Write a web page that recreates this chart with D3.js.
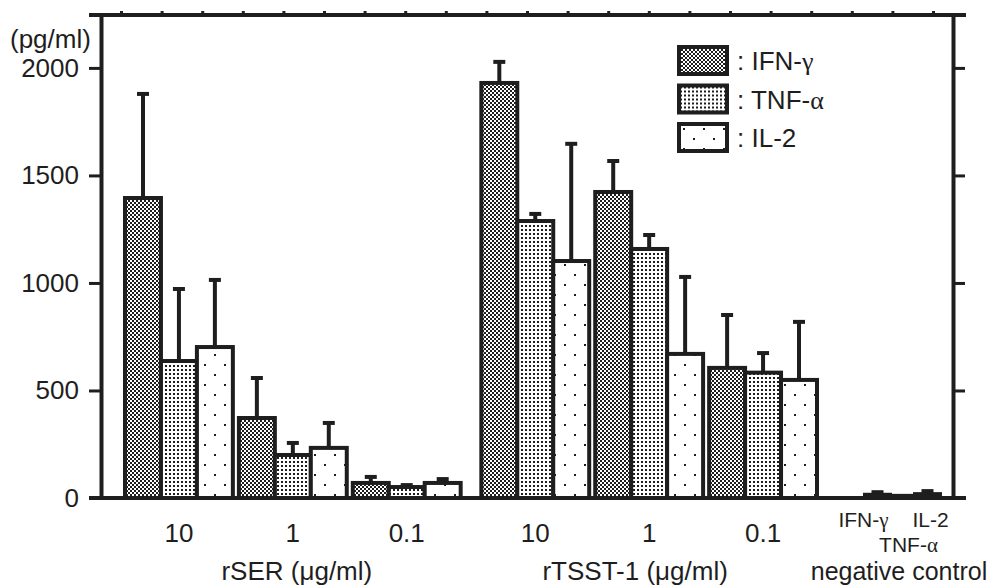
<!DOCTYPE html>
<html>
<head>
<meta charset="utf-8">
<script src="https://cdn.jsdelivr.net/npm/d3@7"></script>
<style>
  body { margin: 0; background: #fff; }
  text { font-family: "Liberation Sans", Arial, sans-serif; fill: #1e1e1e; }
  .greek { font-family: "Liberation Serif", serif; }
</style>
</head>
<body>
<svg id="chart" width="990" height="588"></svg>
<script>
const cytokines = ["IFN-γ", "TNF-α", "IL-2"];
const concentrations = ["10", "1", "0.1"];
const stimuli = ["rSER (μg/ml)", "rTSST-1 (μg/ml)"];

// rows = concentration (10, 1, 0.1), columns = cytokine
const rserMean = [[1395, 637, 702], [372, 200, 233], [70, 51, 70]];
const rserErr = [[484, 335, 312], [186, 56, 116], [28, 9, 18]];
const tsstMean = [[1930, 1288, 1102], [1423, 1158, 670], [605, 583, 549]];
const tsstErr = [[98, 33, 545], [144, 65, 358], [246, 91, 270]];
const negMean = [15, 10, 18];
const negErr = [12, 0, 14];

const yTicks = [0, 500, 1000, 1500, 2000];

const svg = d3.select('#chart'),
  plotLeft = 101, plotRight = 953, plotTop = 15, plotBottom = 498,
  ink = '#1e1e1e',
  y = d3.scaleLinear().domain([0, 2246]).range([plotBottom, plotTop]),
  xStim = d3.scaleBand().domain(stimuli).range([125, 817]).paddingInner(0.058),
  xConc = d3.scaleBand().domain(concentrations).range([0, xStim.bandwidth()]).paddingInner(0.053),
  xCyto = d3.scaleBand().domain(cytokines).range([0, xConc.bandwidth()]),
  xNeg = d3.scaleBand().domain(cytokines).range([865, 940]);

// fill patterns
const defs = svg.append('defs');
function pattern(id, size, dots) {
  const p = defs.append('pattern')
    .attr('id', id)
    .attr('patternUnits', 'userSpaceOnUse')
    .attr('width', size).attr('height', size);
  p.append('rect').attr('width', size).attr('height', size).attr('fill', '#fff');
  dots.forEach(d => p.append('rect')
    .attr('x', d[0]).attr('y', d[1]).attr('width', 2).attr('height', 2).attr('fill', ink));
}
pattern('p-ifn', 4, [[0, 0], [2, 2]]);
pattern('p-tnf', 4, [[1, 1]]);
pattern('p-il2', 20, [[4, 4], [14, 14]]);
const fillOf = d3.scaleOrdinal().domain(cytokines).range(['url(#p-ifn)', 'url(#p-tnf)', 'url(#p-il2)']);

// frame
const frame = svg.append('g').attr('stroke', ink).attr('stroke-width', 4);
frame.append('line').attr('x1', 89).attr('x2', 966).attr('y1', plotTop).attr('y2', plotTop);
frame.append('line').attr('x1', 89).attr('x2', 966).attr('y1', plotBottom).attr('y2', plotBottom);

const topTicks = d3.scaleLinear().domain([0, 20]).range([121, 933]);
svg.append('g')
  .attr('transform', `translate(0,${plotTop})`)
  .call(d3.axisTop(topTicks).tickValues(d3.range(21)).tickSize(4).tickFormat(''))
  .call(g => g.select('.domain').remove())
  .selectAll('line').attr('stroke', ink).attr('stroke-width', 3);

svg.append('g')
  .attr('transform', `translate(${plotLeft},0)`)
  .call(d3.axisLeft(y).tickValues(yTicks).tickSize(12).tickPadding(10).tickSizeOuter(0)
    .tickFormat(d3.format('d')))
  .call(g => g.select('.domain').attr('stroke', ink).attr('stroke-width', 4))
  .call(g => g.selectAll('line').attr('stroke', ink).attr('stroke-width', 3))
  .call(g => g.selectAll('text').attr('font-size', 26).attr('fill', ink)
    .attr('font-family', '"Liberation Sans", Arial, sans-serif'));

svg.append('g')
  .attr('transform', `translate(${plotRight},0)`)
  .call(d3.axisRight(y).tickValues(yTicks).tickSize(12).tickSizeOuter(0).tickFormat(''))
  .call(g => g.select('.domain').attr('stroke', ink).attr('stroke-width', 4))
  .call(g => g.selectAll('line').attr('stroke', ink).attr('stroke-width', 3));

svg.append('text')
  .attr('x', 10).attr('y', 48)
  .attr('font-size', 26)
  .text('(pg/ml)');

// bars
const rows = [];
[rserMean, tsstMean].forEach((means, s) => {
  const errs = s === 0 ? rserErr : tsstErr;
  concentrations.forEach((c, i) => {
    cytokines.forEach((k, j) => {
      rows.push({
        cyto: k,
        x: xStim(stimuli[s]) + xConc(c) + xCyto(k),
        w: xCyto.bandwidth(),
        mean: means[i][j],
        err: errs[i][j]
      });
    });
  });
});
cytokines.forEach((k, j) => rows.push({
  cyto: k, x: xNeg(k), w: xNeg.bandwidth(), mean: negMean[j], err: negErr[j]
}));

const bars = svg.append('g')
  .selectAll('g')
  .data(rows)
  .join('g');

bars.append('line')
  .attr('x1', d => d.x + d.w / 2)
  .attr('x2', d => d.x + d.w / 2)
  .attr('y1', d => y(d.mean))
  .attr('y2', d => y(d.mean + d.err))
  .attr('stroke', ink)
  .attr('stroke-width', 4);

bars.append('line')
  .attr('x1', d => d.x + d.w / 2 - 6)
  .attr('x2', d => d.x + d.w / 2 + 6)
  .attr('y1', d => y(d.mean + d.err))
  .attr('y2', d => y(d.mean + d.err))
  .attr('stroke', ink)
  .attr('stroke-width', d => d.err > 0 ? 4 : 0);

bars.append('rect')
  .attr('x', d => d.x)
  .attr('y', d => y(d.mean))
  .attr('width', d => d.w)
  .attr('height', d => plotBottom - y(d.mean))
  .attr('fill', d => fillOf(d.cyto))
  .attr('stroke', ink)
  .attr('stroke-width', 4);

// redraw baseline over bar bottoms
svg.append('line')
  .attr('x1', 89).attr('x2', 966).attr('y1', plotBottom).attr('y2', plotBottom)
  .attr('stroke', ink).attr('stroke-width', 4);

// group labels
stimuli.forEach((s, i) => {
  svg.append('g')
    .selectAll('text')
    .data(concentrations)
    .join('text')
    .attr('x', c => xStim(s) + xConc(c) + xConc.bandwidth() / 2)
    .attr('y', 542)
    .attr('text-anchor', 'middle')
    .attr('font-size', 26)
    .text(c => c);

  svg.append('text')
    .attr('x', xStim(s) + xStim.bandwidth() / 2 + (i === 0 ? 4 : -14))
    .attr('y', 580)
    .attr('text-anchor', 'middle')
    .attr('font-size', 26)
    .text(s);
});

function labelWithGreek(sel, label) {
  const parts = label.split('-');
  sel.append('tspan').text(parts[0] + '-');
  const last = parts[1];
  if (/[αγ]/.test(last)) sel.append('tspan').attr('class', 'greek').text(last);
  else sel.append('tspan').text(last);
}

// negative control labels
const negLabelPos = [{ k: 'IFN-γ', dx: -14, y: 527 }, { k: 'TNF-α', dx: 6, y: 552 }, { k: 'IL-2', dx: 3, y: 527 }];
negLabelPos.forEach(p => {
  const t = svg.append('text')
    .attr('x', xNeg(p.k) + xNeg.bandwidth() / 2 + p.dx)
    .attr('y', p.y)
    .attr('text-anchor', 'middle')
    .attr('font-size', 21);
  labelWithGreek(t, p.k);
});
svg.append('text')
  .attr('x', 899).attr('y', 580)
  .attr('text-anchor', 'middle')
  .attr('font-size', 25)
  .text('negative control');

// legend
const legend = svg.append('g')
  .selectAll('g')
  .data(cytokines)
  .join('g')
  .attr('transform', (d, i) => `translate(679,${47 + i * 38.5})`);

legend.append('rect')
  .attr('width', 48).attr('height', 27)
  .attr('fill', d => fillOf(d))
  .attr('stroke', ink).attr('stroke-width', 4);

legend.append('text')
  .attr('x', 58).attr('y', 23)
  .attr('font-size', 26)
  .each(function (d) {
    const t = d3.select(this);
    t.append('tspan').text(': ');
    labelWithGreek(t, d);
  });
</script>
</body>
</html>
